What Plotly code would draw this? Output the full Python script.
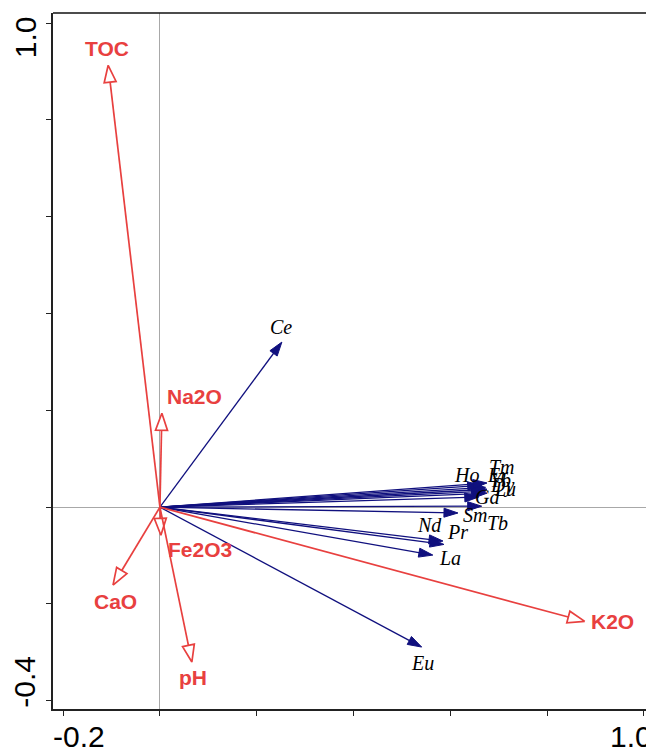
import numpy as np
import plotly.graph_objects as go

# ---- data (arrow tips, RDA biplot scores) ----
env_names = ["TOC", "Na2O", "Fe2O3", "CaO", "pH", "K2O"]
env_x = [-0.107, 0.004, 0.002, -0.097, 0.066, 0.878]
env_y = [0.913, 0.194, -0.058, -0.161, -0.320, -0.236]

sp_names = ["Ce", "Eu", "La", "Nd", "Pr", "Sm", "Tb", "Gd", "Lu", "Dy", "Yb", "Er", "Ho", "Tm"]
sp_x = [0.252, 0.541, 0.564, 0.585, 0.587, 0.616, 0.665, 0.659, 0.676, 0.673, 0.676, 0.673, 0.665, 0.676]
sp_y = [0.341, -0.289, -0.099, -0.070, -0.077, -0.012, 0.002, 0.021, 0.029, 0.033, 0.037, 0.041, 0.045, 0.050]

x_tickvals = [-0.2, 0.0, 0.2, 0.4, 0.6, 0.8, 1.0]
y_tickvals = [-0.4, -0.2, 0.0, 0.2, 0.4, 0.6, 0.8, 1.0]
x_end_labels = ["-0.2", "1.0"]
y_end_labels = ["-0.4", "1.0"]

# ---- style ----
RED = "#E8403F"
BLUE = "#10107E"
PX = 484.0  # pixels per data unit (equal aspect)
TICKFONT = dict(family="Liberation Sans", size=30, color="black")

# label offsets in pixels (dx right, dy down) relative to arrow tip
env_off = {"TOC": (-1, -17), "Na2O": (33, -17), "Fe2O3": (39, 14), "CaO": (2, 16),
           "pH": (1, 15), "K2O": (28, 0)}
sp_off = {"Ce": (-1, -15), "Eu": (1, 16), "La": (17, 3), "Nd": (-13, -16), "Pr": (14, -12),
          "Sm": (17, 2), "Tb": (16, 17), "Gd": (9, 0), "Lu": (18, -4), "Dy": (16, -6),
          "Yb": (13, -9), "Er": (12, -12), "Ho": (-15, -10), "Tm": (15, -16)}

fig = go.Figure()


def arrow(x, y, color, head_len, head_w, open_head, lw):
    v = np.array([x, y])
    u = v / np.linalg.norm(v)
    n = np.array([-u[1], u[0]])
    L = head_len / PX
    W = head_w / PX
    base = v - L * u
    p1 = base + W * n
    p2 = base - W * n
    end = base if open_head else v - 0.3 * L * u
    fig.add_trace(go.Scatter(x=[0, end[0]], y=[0, end[1]], mode="lines",
                             line=dict(color=color, width=lw), hoverinfo="skip",
                             showlegend=False))
    fig.add_trace(go.Scatter(x=[v[0], p1[0], p2[0], v[0]], y=[v[1], p1[1], p2[1], v[1]],
                             mode="lines", fill="toself",
                             fillcolor="white" if open_head else color,
                             line=dict(color=color, width=lw if open_head else 1),
                             hoverinfo="skip", showlegend=False))


for nm, x, y in zip(sp_names, sp_x, sp_y):
    arrow(x, y, BLUE, 14, 4.5, False, 1.3)
    dx, dy = sp_off[nm]
    fig.add_annotation(x=x, y=y, text=nm, showarrow=False, xshift=dx, yshift=-dy,
                       xanchor="center", yanchor="middle",
                       font=dict(family="Liberation Serif", size=20, color="black", style="italic"))

for nm, x, y in zip(env_names, env_x, env_y):
    arrow(x, y, RED, 17, 6, True, 1.7)
    dx, dy = env_off[nm]
    fig.add_annotation(x=x, y=y, text="<b>" + nm + "</b>", showarrow=False, xshift=dx, yshift=-dy,
                       xanchor="center", yanchor="middle",
                       font=dict(family="Liberation Sans", size=21, color=RED))

axis_common = dict(showgrid=False, zeroline=True, zerolinecolor="#a8a8a8", zerolinewidth=1,
                   showline=True, linecolor="#222222", linewidth=1.5,
                   ticks="outside", ticklen=5, tickwidth=1, tickcolor="#222222",
                   automargin=False, showticklabels=False)

fig.update_xaxes(range=[-0.221, 1.017], tickvals=x_tickvals, **axis_common)
fig.update_yaxes(range=[-0.417, 1.021], tickvals=y_tickvals, **axis_common)

# end tick labels, aligned inward like the original
fig.add_annotation(x=x_tickvals[0], xref="x", y=0, yref="paper", text=x_end_labels[0],
                   showarrow=False, xanchor="left", yanchor="middle", xshift=-12, yshift=-27,
                   font=TICKFONT)
fig.add_annotation(x=x_tickvals[-1], xref="x", y=0, yref="paper", text=x_end_labels[1],
                   showarrow=False, xanchor="right", yanchor="middle", xshift=10, yshift=-27,
                   font=TICKFONT)
fig.add_annotation(x=0, xref="paper", y=y_tickvals[0], yref="y", text=y_end_labels[0],
                   showarrow=False, textangle=-90, xanchor="center", yanchor="bottom",
                   xshift=-28, yshift=-9, font=TICKFONT)
fig.add_annotation(x=0, xref="paper", y=y_tickvals[-1], yref="y", text=y_end_labels[1],
                   showarrow=False, textangle=-90, xanchor="center", yanchor="top",
                   xshift=-28, yshift=9, font=TICKFONT)

fig.add_shape(type="line", xref="paper", yref="paper", x0=0, x1=1, y0=1, y1=1,
              line=dict(color="#111111", width=1.5))
fig.add_shape(type="line", xref="paper", yref="paper", x0=1, x1=1, y0=0, y1=1,
              line=dict(color="#b5b5b5", width=1.5))

# the page body adds an 8px margin, so the figure is sized/margined to compensate
fig.update_layout(width=646, height=740, margin=dict(l=45, r=2, t=5, b=39),
                  plot_bgcolor="white", paper_bgcolor="white", showlegend=False)

fig.write_html("out.html")
